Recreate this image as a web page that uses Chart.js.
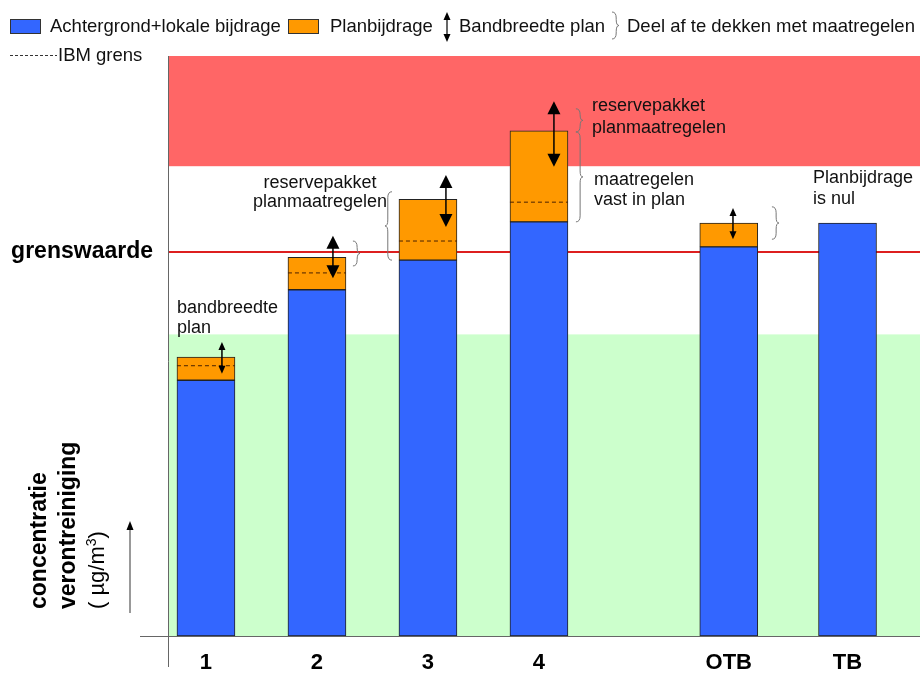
<!DOCTYPE html>
<html>
<head>
<meta charset="utf-8">
<script src="https://cdn.jsdelivr.net/npm/chart.js@4.4.1/dist/chart.umd.min.js"></script>
<style>
  body { margin: 0; background: #fff; }
  #wrap { width: 920px; height: 673px; position: relative; }
</style>
</head>
<body>
<div id="wrap"><canvas id="myChart"></canvas></div>
<script>
// scenario's en hun plaats op de x-as
const categories = ["1", "2", "3", "4", "OTB", "TB"];
const positions = [1, 2, 3, 4, 5.71, 6.78];

const achtergrond = [44.1, 59.7, 64.8, 71.4, 67.1, 71.2];
const planbijdrage = [4.0, 5.6, 10.5, 15.7, 4.1, null];
const ibmGrens = [46.6, 62.6, 68.1, 74.8, null, null];

// bandbreedte pijlen
const bandTop = [50.7, 69.0, 79.5, 92.2, 73.8];
const bandBottom = [45.2, 61.7, 70.5, 80.9, 68.4];
const arrowX = [1.144, 2.144, 3.162, 4.135, 5.748];
const bigHead = [false, true, true, true, false];

// zones
const grenswaarde = 66.2;
const rodeZone = 81;
const groeneZone = 52;

// accolades: [x, yVan, yTot, richting]
const braces = [
  [2.324, 68.1, 63.8, 1],
  [2.676, 76.6, 64.8, -1],
  [4.333, 90.9, 86.9, 1],
  [4.333, 86.9, 71.4, 1],
  [6.099, 74.0, 68.4, 1],
];

// teksten: [x, y, tekst, uitlijning]
const notes = [
  [0.739, 56.6, "bandbreedte", "left"],
  [0.739, 53.1, "plan", "left"],
  [2.027, 78.1, "reservepakket", "center"],
  [2.027, 74.8, "planmaatregelen", "center"],
  [4.477, 91.4, "reservepakket", "left"],
  [4.477, 87.6, "planmaatregelen", "left"],
  [4.495, 78.6, "maatregelen", "left"],
  [4.495, 75.2, "vast in plan", "left"],
  [6.468, 79.0, "Planbijdrage", "left"],
  [6.468, 75.3, "is nul", "left"],
];

const FONT = "'Liberation Sans', Arial, sans-serif";
const BLUE = "#3366ff";
const ORANGE = "#ff9900";

function head(c, x, y, dir, len, hw) {
  c.beginPath();
  c.moveTo(x, y);
  c.lineTo(x - hw / 2, y + len * dir);
  c.lineTo(x + hw / 2, y + len * dir);
  c.closePath();
  c.fill();
}

function arrow(c, x, y1, y2, len, hw) {
  c.beginPath();
  c.moveTo(x, y1 + len * 0.5);
  c.lineTo(x, y2 - len * 0.5);
  c.stroke();
  head(c, x, y1, 1, len, hw);
  head(c, x, y2, -1, len, hw);
}

function brace(c, x, y1, y2, dir) {
  const w = 7 * dir;
  const m = (y1 + y2) / 2;
  const q = Math.min(6, (y2 - y1) / 4);
  c.beginPath();
  c.moveTo(x, y1);
  c.quadraticCurveTo(x + w * 0.6, y1, x + w * 0.6, y1 + q);
  c.lineTo(x + w * 0.6, m - q);
  c.quadraticCurveTo(x + w * 0.6, m, x + w, m);
  c.quadraticCurveTo(x + w * 0.6, m, x + w * 0.6, m + q);
  c.lineTo(x + w * 0.6, y2 - q);
  c.quadraticCurveTo(x + w * 0.6, y2, x, y2);
  c.stroke();
}

const decor = {
  id: "decor",
  beforeDatasetsDraw(chart) {
    const c = chart.ctx, a = chart.chartArea;
    const y = chart.scales.y;
    c.save();
    c.fillStyle = "#ff6666";
    c.fillRect(a.left, a.top, a.right - a.left, y.getPixelForValue(rodeZone) - a.top);
    c.fillStyle = "#ccffcc";
    c.fillRect(a.left, y.getPixelForValue(groeneZone), a.right - a.left, a.bottom - y.getPixelForValue(groeneZone));
    c.strokeStyle = "#dd1f1f";
    c.lineWidth = 2;
    c.beginPath();
    c.moveTo(a.left, y.getPixelForValue(grenswaarde));
    c.lineTo(a.right, y.getPixelForValue(grenswaarde));
    c.stroke();
    c.restore();
  },
  afterDatasetsDraw(chart) {
    const c = chart.ctx, a = chart.chartArea;
    const x = chart.scales.x, y = chart.scales.y;
    c.save();
    // assen
    c.strokeStyle = "#666";
    c.lineWidth = 1;
    c.beginPath();
    c.moveTo(140, a.bottom + 0.5);
    c.lineTo(a.right, a.bottom + 0.5);
    c.moveTo(a.left + 0.5, a.top);
    c.lineTo(a.left + 0.5, 667);
    c.stroke();

    // IBM grens
    const meta = chart.getDatasetMeta(0);
    c.strokeStyle = "#4a2200";
    c.setLineDash([4, 3]);
    ibmGrens.forEach((v, i) => {
      if (v == null) return;
      const bar = meta.data[i];
      const py = y.getPixelForValue(v);
      c.beginPath();
      c.moveTo(bar.x - bar.width / 2, py);
      c.lineTo(bar.x + bar.width / 2, py);
      c.stroke();
    });
    c.setLineDash([]);

    // bandbreedte pijlen
    c.strokeStyle = "#000";
    c.fillStyle = "#000";
    c.lineWidth = 1.5;
    arrowX.forEach((v, i) => {
      const big = bigHead[i];
      arrow(c, x.getPixelForValue(v), y.getPixelForValue(bandTop[i]), y.getPixelForValue(bandBottom[i]), big ? 13 : 8, big ? 13 : 7);
    });

    // accolades
    c.strokeStyle = "#777";
    c.lineWidth = 1;
    braces.forEach(b => {
      brace(c, x.getPixelForValue(b[0]), y.getPixelForValue(b[1]), y.getPixelForValue(b[2]), b[3]);
    });

    // teksten
    c.fillStyle = "#111";
    c.font = "18px " + FONT;
    c.textBaseline = "middle";
    notes.forEach(n => {
      c.textAlign = n[3];
      c.fillText(n[2], x.getPixelForValue(n[0]), y.getPixelForValue(n[1]));
    });

    // grenswaarde label
    c.font = "bold 23px " + FONT;
    c.textAlign = "right";
    c.fillStyle = "#000";
    c.fillText("grenswaarde", 153, y.getPixelForValue(grenswaarde));

    // y-as titel
    c.save();
    c.translate(0, 609);
    c.rotate(-Math.PI / 2);
    c.textAlign = "left";
    c.font = "bold 23px " + FONT;
    c.fillText("concentratie", 0, 40);
    c.fillText("verontreiniging", 0, 69);
    c.font = "22px " + FONT;
    let tx = 0;
    c.fillText("( \u00b5g/m", tx, 98);
    tx += c.measureText("( \u00b5g/m").width;
    c.font = "14px " + FONT;
    c.fillText("3", tx, 92);
    tx += c.measureText("3").width;
    c.font = "22px " + FONT;
    c.fillText(")", tx, 98);
    c.restore();
    c.lineWidth = 1.5;
    c.beginPath();
    c.moveTo(130, 613);
    c.lineTo(130, 528);
    c.stroke();
    head(c, 130, 521, 1, 9, 7);

    // legenda
    c.lineWidth = 1;
    c.strokeStyle = "#333";
    c.fillStyle = BLUE;
    c.fillRect(10.5, 19.5, 30, 14);
    c.strokeRect(10.5, 19.5, 30, 14);
    c.fillStyle = ORANGE;
    c.fillRect(288.5, 19.5, 30, 14);
    c.strokeRect(288.5, 19.5, 30, 14);
    c.fillStyle = "#111";
    c.font = "18.5px " + FONT;
    c.textAlign = "left";
    c.fillText("Achtergrond+lokale bijdrage", 50, 27);
    c.fillText("Planbijdrage", 330, 27);
    c.fillText("Bandbreedte plan", 459, 27);
    c.fillText("Deel af te dekken met maatregelen", 627, 27);
    c.fillText("IBM grens", 58, 56);
    c.strokeStyle = "#000";
    c.fillStyle = "#000";
    c.lineWidth = 1.2;
    arrow(c, 447, 12, 42, 8, 7);
    c.strokeStyle = "#777";
    c.lineWidth = 1;
    brace(c, 612, 12, 39, 1);
    c.strokeStyle = "#333";
    c.setLineDash([3, 2]);
    c.beginPath();
    c.moveTo(10, 55.5);
    c.lineTo(57, 55.5);
    c.stroke();
    c.restore();
  },
};

new Chart(document.getElementById("myChart"), {
  type: "bar",
  data: {
    datasets: [
      {
        label: "Achtergrond+lokale bijdrage",
        data: positions.map((p, i) => ({ x: p, y: achtergrond[i] })),
        backgroundColor: BLUE,
        borderColor: "#222",
        borderWidth: 1,
        borderSkipped: false,
        barThickness: 58,
      },
      {
        label: "Planbijdrage",
        data: positions.map((p, i) => ({ x: p, y: planbijdrage[i] })),
        backgroundColor: ORANGE,
        borderColor: "#222",
        borderWidth: 1,
        borderSkipped: false,
        barThickness: 58,
      },
    ],
  },
  options: {
    responsive: true,
    maintainAspectRatio: false,
    animation: false,
    layout: { padding: { left: 168, top: 56, right: 0, bottom: 0 } },
    scales: {
      x: {
        type: "linear",
        stacked: true,
        offset: false,
        min: 0.658,
        max: 7.433,
        grid: { display: false },
        border: { display: false },
        afterBuildTicks: (scale) => {
          scale.ticks = positions.map((v) => ({ value: v }));
        },
        afterFit: (scale) => {
          scale.height = 37;
        },
        ticks: {
          autoSkip: false,
          maxRotation: 0,
          padding: 6,
          color: "#000",
          font: { family: FONT, size: 22, weight: "bold" },
          callback: (v, i) => categories[i],
        },
      },
      y: {
        stacked: true,
        display: false,
        min: 0,
        max: 100,
      },
    },
    plugins: {
      legend: { display: false },
      tooltip: { enabled: false },
    },
  },
  plugins: [decor],
});
</script>
</body>
</html>
